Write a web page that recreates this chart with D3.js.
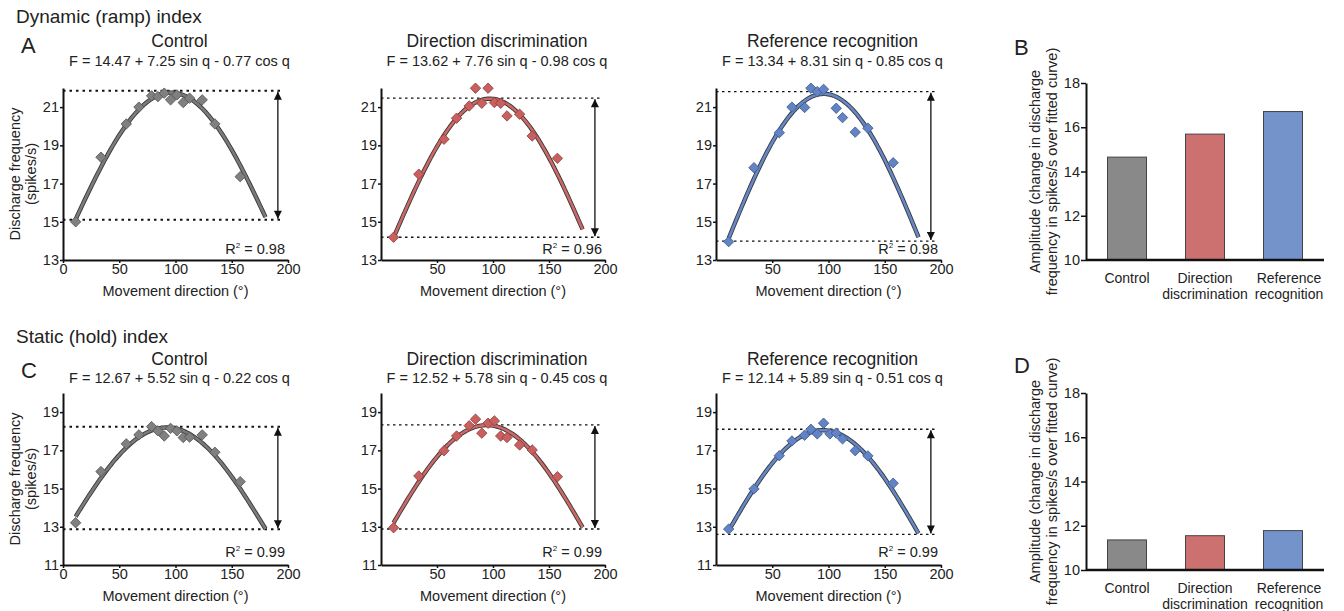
<!DOCTYPE html>
<html>
<head>
<meta charset="utf-8">
<script src="https://cdn.jsdelivr.net/npm/d3@7"></script>
<style>
body { margin: 0; background: #fff; }
svg text { font-family: "Liberation Sans", Arial, sans-serif; fill: #222; }
</style>
</head>
<body>
<script>
//conditions (panels / bars)
var conditions = ["Control", "Direction discrimination", "Reference recognition"];
var barLabels = [["Control"], ["Direction", "discrimination"], ["Reference", "recognition"]];

//movement directions (deg) of the measured points
var directions = [11.25, 33.75, 56.25, 67.5, 78.75, 84.375, 90, 95.625, 101.25, 106.875, 112.5, 123.75, 135, 157.5];

//dynamic (ramp) index - discharge frequency (spikes/s)
var dynControl   = [15.0, 18.38, 20.12, 21.0, 21.59, 21.55, 21.73, 21.38, 21.64, 21.24, 21.47, 21.38, 20.12, 17.36];
var dynDirection = [14.19, 17.49, 19.32, 20.42, 21.06, 21.99, 21.2, 21.99, 21.24, 21.2, 20.54, 20.63, 19.49, 18.32];
var dynReference = [13.96, 17.83, 19.66, 21.0, 20.98, 21.99, 21.81, 21.93, null, 20.94, 20.45, 19.69, 19.9, 18.09];

//static (hold) index
var statControl   = [13.21, 15.89, 17.34, 17.81, 18.24, 18.02, 17.75, 18.15, 18.02, 17.67, 17.69, 17.81, 16.9, 15.36];
var statDirection = [12.95, 15.66, 16.98, 17.75, 18.29, 18.63, 17.9, 18.42, 18.54, 17.75, 17.67, 17.28, 17.02, 15.62];
var statReference = [12.88, 14.98, 16.72, 17.49, 17.79, 18.1, 17.86, 18.42, 17.86, 17.9, 17.6, 16.98, 16.71, 15.28];

//fitted cosine curves F = a + b sin q + c cos q (as printed in the figure)
var dynIntercept = [14.47, 13.62, 13.34];
var dynSin = [7.25, 7.76, 8.31];
var dynCos = [-0.77, -0.98, -0.85];
var statIntercept = [12.67, 12.52, 12.14];
var statSin = [5.52, 5.78, 5.89];
var statCos = [-0.22, -0.45, -0.51];

var dynR2 = ["0.98", "0.96", "0.98"];
var statR2 = ["0.99", "0.99", "0.99"];

//dotted max / min lines of the fitted curve
var dynTop = [21.85, 21.47, 21.81];
var dynBottom = [15.1, 14.19, 13.99];
var statTop = [18.24, 18.33, 18.1];
var statBottom = [12.87, 12.88, 12.6];

//amplitude bars (B and D)
var dynAmplitude = [14.65, 15.69, 16.71];
var statAmplitude = [11.36, 11.55, 11.78];

var yTicksDyn = [13, 15, 17, 19, 21];
var yTicksStat = [11, 13, 15, 17, 19];
var barTicks = [10, 12, 14, 16, 18];

var pointFill = ["#808080", "#c9605f", "#6384c4"];
var pointStroke = ["#555", "#8e3e3d", "#3d5a8e"];
var lineColor = ["#7b7b7b", "#cc6866", "#6688c8"];
var barFill = ["#898989", "#cd7170", "#7493cb"];

var svg = d3.select("body").append("svg")
    .attr("width", 1344)
    .attr("height", 611);

var panelX = [[63, 288], [381, 605], [716, 941]];

var rows = [
    {title: "Dynamic (ramp) index", letter: "A", barLetter: "B", top: 88, bottom: 260,
     yDomain: [13, 22], yTicks: yTicksDyn, values: [dynControl, dynDirection, dynReference],
     a: dynIntercept, b: dynSin, c: dynCos, r2: dynR2, hi: dynTop, lo: dynBottom, amp: dynAmplitude,
     titleY: 23, letterY: 53, nameY: 47, eqY: 66, r2Y: 254, barTop: 83, barBottom: 260, barLetterY: 55},
    {title: "Static (hold) index", letter: "C", barLetter: "D", top: 393, bottom: 565,
     yDomain: [11, 20], yTicks: yTicksStat, values: [statControl, statDirection, statReference],
     a: statIntercept, b: statSin, c: statCos, r2: statR2, hi: statTop, lo: statBottom, amp: statAmplitude,
     titleY: 343, letterY: 378, nameY: 365, eqY: 383, r2Y: 557, barTop: 393, barBottom: 570, barLetterY: 373}
];

// arrow heads
var defs = svg.append("defs");
defs.append("marker").attr("id", "arrow")
    .attr("viewBox", "0 0 10 10").attr("refX", 10).attr("refY", 5)
    .attr("markerWidth", 9).attr("markerHeight", 8).attr("markerUnits", "userSpaceOnUse")
    .attr("orient", "auto-start-reverse")
    .append("path").attr("d", "M0,0L10,5L0,10Z").attr("fill", "#111");

function styleAxis(g) {
    g.attr("font-size", null).attr("font-family", null);
    g.selectAll("text").style("font-size", "14.5px");
    g.select(".domain").attr("stroke", "#111").attr("stroke-width", 2);
    g.selectAll(".tick line").attr("stroke", "#111").attr("stroke-width", 1.5);
}

var fmt = d3.format(".2f");

rows.forEach(function(row) {

    svg.append("text")
        .attr("x", 16).attr("y", row.titleY)
        .style("font-size", "19px")
        .text(row.title);

    svg.append("text")
        .attr("x", 21).attr("y", row.letterY)
        .style("font-size", "22px")
        .text(row.letter);

    var y = d3.scaleLinear().domain(row.yDomain).range([row.bottom, row.top]);

    conditions.forEach(function(cond, i) {
        var x = d3.scaleLinear().domain([0, 200]).range(panelX[i]);
        var g = svg.append("g");
        var cx = (panelX[i][0] + panelX[i][1]) / 2 + 4;

        g.append("text").attr("x", cx).attr("y", row.nameY)
            .attr("text-anchor", "middle").style("font-size", "17.5px")
            .text(cond);

        g.append("text").attr("x", cx).attr("y", row.eqY)
            .attr("text-anchor", "middle").style("font-size", "14.5px")
            .text("F = " + fmt(row.a[i]) + " + " + fmt(row.b[i]) + " sin q - " + fmt(-row.c[i]) + " cos q");

        // dotted max/min lines
        [row.hi[i], row.lo[i]].forEach(function(v) {
            g.append("line")
                .attr("x1", x(0)).attr("x2", x(196))
                .attr("y1", y(v)).attr("y2", y(v))
                .attr("stroke", "#111")
                .attr("stroke-width", i == 0 ? 2 : 1.4)
                .attr("stroke-dasharray", i == 0 ? "2.5,4" : "2.5,3.5");
        });

        // amplitude arrow
        g.append("line")
            .attr("x1", x(191)).attr("x2", x(191))
            .attr("y1", y(row.lo[i]) - 1).attr("y2", y(row.hi[i]) + 1)
            .attr("stroke", "#111").attr("stroke-width", 1.3)
            .attr("marker-start", "url(#arrow)")
            .attr("marker-end", "url(#arrow)");

        // fitted curve
        var qs = d3.range(11.25, 180.01, 1.5);
        if (qs[qs.length - 1] < 180) qs.push(180);
        var curve = qs.map(function(q) {
            var r = q * Math.PI / 180;
            return [q, row.a[i] + row.b[i] * Math.sin(r) + row.c[i] * Math.cos(r)];
        });
        var line = d3.line()
            .x(function(d) { return x(d[0]); })
            .y(function(d) { return y(d[1]); });
        g.append("path").datum(curve).attr("d", line)
            .attr("fill", "none").attr("stroke", "#3a3a3a").attr("stroke-width", 4.4);
        g.append("path").datum(curve).attr("d", line)
            .attr("fill", "none").attr("stroke", lineColor[i]).attr("stroke-width", 2.6);

        // data points
        var pts = directions.map(function(q, k) { return {q: q, v: row.values[i][k]}; })
            .filter(function(d) { return d.v != null; });
        g.selectAll(".pt").data(pts).enter()
            .append("path")
            .attr("class", "pt")
            .attr("d", d3.symbol(d3.symbolSquare, 54))
            .attr("transform", function(d) {
                return "translate(" + x(d.q) + "," + y(d.v) + ") rotate(45)";
            })
            .attr("fill", pointFill[i])
            .attr("stroke", pointStroke[i])
            .attr("stroke-width", 0.8);

        // axes
        var ax = g.append("g")
            .attr("transform", "translate(0," + row.bottom + ")")
            .call(d3.axisBottom(x)
                .tickValues(i == 0 ? [0, 50, 100, 150, 200] : [50, 100, 150, 200])
                .tickSize(3).tickSizeOuter(0).tickPadding(1));
        styleAxis(ax);

        var ay = g.append("g")
            .attr("transform", "translate(" + panelX[i][0] + ",0)")
            .call(d3.axisLeft(y).tickValues(row.yTicks)
                .tickSize(3).tickSizeOuter(0).tickPadding(1));
        styleAxis(ay);

        g.append("text")
            .attr("x", cx - 4).attr("y", row.bottom + 36)
            .attr("text-anchor", "middle").style("font-size", "14.5px")
            .text("Movement direction (\u00b0)");

        var r2 = g.append("text")
            .attr("x", panelX[i][1] - 3).attr("y", row.r2Y)
            .attr("text-anchor", "end").style("font-size", "14.5px");
        r2.append("tspan").text("R");
        r2.append("tspan").attr("dy", -6).style("font-size", "8px").text("2");
        r2.append("tspan").attr("dy", 6).text(" = " + row.r2[i]);

        if (i == 0) {
            var mid = (row.top + row.bottom) / 2;
            var lab = g.append("text")
                .attr("transform", "translate(20," + mid + ") rotate(-90)")
                .attr("text-anchor", "middle").style("font-size", "14.5px");
            lab.append("tspan").attr("x", 0).attr("y", 0).text("Discharge frequency");
            lab.append("tspan").attr("x", 0).attr("y", 16).text("(spikes/s)");
        }
    });

    // amplitude bar chart
    var bx = d3.scaleBand().domain(conditions).range([1088, 1322])
        .paddingInner(0.5).paddingOuter(0.25);
    var by = d3.scaleLinear().domain([10, 18]).range([row.barBottom, row.barTop]);
    var bg = svg.append("g");

    bg.append("text")
        .attr("x", 1014).attr("y", row.barLetterY)
        .style("font-size", "22px")
        .text(row.barLetter);

    bg.selectAll(".bar").data(row.amp).enter()
        .append("rect")
        .attr("class", "bar")
        .attr("x", function(d, k) { return bx(conditions[k]); })
        .attr("width", bx.bandwidth())
        .attr("y", function(d) { return by(d); })
        .attr("height", function(d) { return by(10) - by(d); })
        .attr("fill", function(d, k) { return barFill[k]; })
        .attr("stroke", "#444").attr("stroke-width", 1);

    var bax = bg.append("g")
        .attr("transform", "translate(1086,0)")
        .call(d3.axisLeft(by).tickValues(barTicks).tickSize(5).tickSizeOuter(0).tickPadding(1));
    styleAxis(bax);

    bg.append("line")
        .attr("x1", 1086).attr("x2", 1324)
        .attr("y1", row.barBottom).attr("y2", row.barBottom)
        .attr("stroke", "#111").attr("stroke-width", 2.5);

    // category labels (last one sits a bit right of its bar, as in the figure)
    barLabels.forEach(function(lines, k) {
        var t = bg.append("text")
            .attr("text-anchor", "middle").style("font-size", "14px");
        lines.forEach(function(s, j) {
            t.append("tspan")
                .attr("x", bx(conditions[k]) + bx.bandwidth() / 2 + (k == 2 ? 6 : 0))
                .attr("y", row.barBottom + 23 + j * 15.5)
                .text(s);
        });
    });

    var bmid = (row.barTop + row.barBottom) / 2;
    var blab = bg.append("text")
        .attr("transform", "translate(1040," + bmid + ") rotate(-90)")
        .attr("text-anchor", "middle").style("font-size", "14.5px");
    blab.append("tspan").attr("x", 0).attr("y", 0).text("Amplitude (change in discharge");
    blab.append("tspan").attr("x", 0).attr("y", 16.5).text("frequency in spikes/s over fitted curve)");
});
</script>
</body>
</html>
